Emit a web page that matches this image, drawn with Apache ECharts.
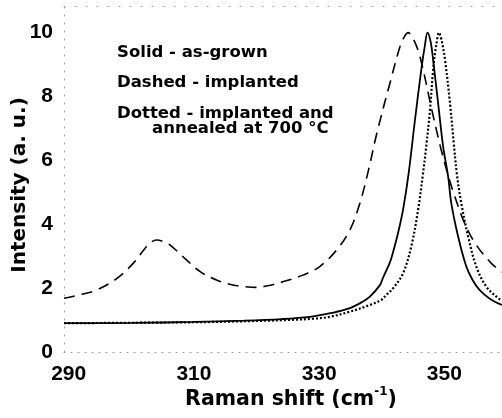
<!DOCTYPE html>
<html><head><meta charset="utf-8">
<script src="https://cdn.jsdelivr.net/npm/echarts@6/dist/echarts.min.js"></script>
<style>html,body{margin:0;padding:0;background:#fff}#c{width:502px;height:418px}</style>
</head><body><div id="c"></div>
<script>
const xTicks = [290, 310, 330, 350];
const yTicks = [0, 2, 4, 6, 8, 10];

const solidX = [289.25, 300, 310, 318, 324, 328.5, 332, 334.9, 337, 338.1, 339.7, 340.2, 341.3, 341.8, 342.6, 343.4, 344.3, 345.3, 346.3, 346.9, 347.3, 347.8, 348.2, 349.0, 349.8, 350.6, 351.1, 352.2, 353.5, 354.5, 355.6, 357.3, 359.2];
const solidY = [0.90, 0.91, 0.94, 0.98, 1.03, 1.10, 1.22, 1.37, 1.58, 1.73, 2.09, 2.32, 2.80, 3.12, 3.72, 4.45, 5.60, 7.25, 8.81, 9.60, 9.98, 9.70, 9.13, 7.77, 6.42, 5.48, 4.65, 3.60, 2.67, 2.25, 1.94, 1.66, 1.47];

const dashedX = [289.25, 292, 294.5, 297.7, 300.3, 302.4, 303.3, 304.0, 305.0, 306.2, 308.8, 311.0, 313.6, 315.7, 317.3, 320.0, 322.0, 324.3, 327.5, 330.1, 332.8, 334.9, 336.5, 337.9, 339.2, 341.3, 342.9, 343.6, 344.2, 345.0, 346.1, 348.0, 349.5, 350.9, 351.6, 353.0, 354.9, 357.5, 359.2];
const dashedY = [1.68, 1.80, 1.94, 2.30, 2.77, 3.29, 3.45, 3.50, 3.46, 3.34, 2.88, 2.51, 2.25, 2.12, 2.06, 2.02, 2.08, 2.20, 2.41, 2.67, 3.19, 3.81, 4.65, 5.70, 6.83, 8.40, 9.54, 9.85, 9.98, 9.80, 9.23, 7.56, 6.31, 5.32, 4.90, 4.13, 3.40, 2.77, 2.50];

const dottedX = [289.25, 310, 320, 325, 329.0, 331.7, 334.9, 338.1, 339.95, 340.7, 341.8, 343.4, 344.7, 345.8, 346.6, 347.1, 347.7, 348.2, 348.7, 349.15, 349.6, 350.1, 350.9, 351.5, 352.0, 352.7, 353.8, 355.1, 356.7, 358.6, 359.2];
const dottedY = [0.90, 0.93, 0.97, 1.00, 1.04, 1.10, 1.26, 1.47, 1.63, 1.78, 1.99, 2.46, 3.29, 4.44, 5.60, 6.42, 7.56, 8.81, 9.60, 9.98, 9.70, 9.13, 7.77, 6.52, 5.55, 4.65, 3.60, 2.67, 2.04, 1.68, 1.60];

const pairs = (xs, ys) => xs.map((x, i) => [x, ys[i]]);
const axisGray = '#9a9a9a';
const tickFont = {fontFamily: 'Liberation Sans', fontWeight: 'bold', fontSize: 21, color: '#000'};
const noteFont = 'bold 16.5px "DejaVu Sans"';

const chart = echarts.init(document.getElementById('c'), null, {renderer: 'canvas'});
chart.setOption({
  animation: false,
  backgroundColor: '#fff',
  grid: {left: 64, right: 0, top: 6.4, bottom: 66, containLabel: false},
  xAxis: [{
    type: 'value', min: 289.25, max: 359.2,
    axisLine: {show: true, lineStyle: {color: axisGray, width: 1, type: [1, 6]}},
    axisTick: {show: false},
    splitLine: {show: false},
    axisLabel: Object.assign({customValues: xTicks, margin: 12}, tickFont)
  }, {
    type: 'value', position: 'top', min: 289.25, max: 359.2,
    axisLine: {show: true, lineStyle: {color: axisGray, width: 1, type: [1, 10]}},
    axisTick: {show: false}, axisLabel: {show: false}, splitLine: {show: false}
  }],
  yAxis: {
    type: 'value', min: 0, max: 10.8,
    axisLine: {show: true, lineStyle: {color: axisGray, width: 1, type: [1, 7]}},
    axisTick: {show: false},
    splitLine: {show: false},
    axisLabel: Object.assign({customValues: yTicks, margin: 11}, tickFont)
  },
  series: [
    {type: 'line', name: 'Solid', data: pairs(solidX, solidY), showSymbol: false, smooth: 0.35,
     lineStyle: {color: '#000', width: 1.8, type: 'solid'}},
    {type: 'line', name: 'Dashed', data: pairs(dashedX, dashedY), showSymbol: false, smooth: 0.35,
     lineStyle: {color: '#000', width: 1.6, type: [11, 7]}},
    {type: 'line', name: 'Dotted', data: pairs(dottedX, dottedY), showSymbol: false, smooth: 0.35,
     lineStyle: {color: '#000', width: 2.2, type: [2, 2]}}
  ],
  graphic: [
    {type: 'text', left: 117, top: 44, style: {text: 'Solid - as-grown', font: noteFont, fill: '#000'}},
    {type: 'text', left: 117, top: 74, style: {text: 'Dashed - implanted', font: noteFont, fill: '#000'}},
    {type: 'text', left: 117, top: 105, style: {text: 'Dotted - implanted and', font: noteFont, fill: '#000'}},
    {type: 'text', left: 152, top: 120, style: {text: 'annealed at 700 °C', font: noteFont, fill: '#000'}},
    {type: 'text', x: 291, y: 398, style: {
      text: '{m|Raman shift (cm}{s|-1}{m|)}', align: 'center', verticalAlign: 'middle',
      rich: {
        m: {font: 'bold 20.5px "DejaVu Sans"', fill: '#000', lineHeight: 24, verticalAlign: 'bottom'},
        s: {font: 'bold 12px "DejaVu Sans"', fill: '#000', lineHeight: 24, verticalAlign: 'top'}
      }}},
    {type: 'text', x: 20, y: 185, rotation: Math.PI / 2, style: {
      text: 'Intensity (a. u.)', font: 'bold 20px "DejaVu Sans"', fill: '#000',
      align: 'center', verticalAlign: 'middle'}}
  ]
});
</script>
</body></html>
